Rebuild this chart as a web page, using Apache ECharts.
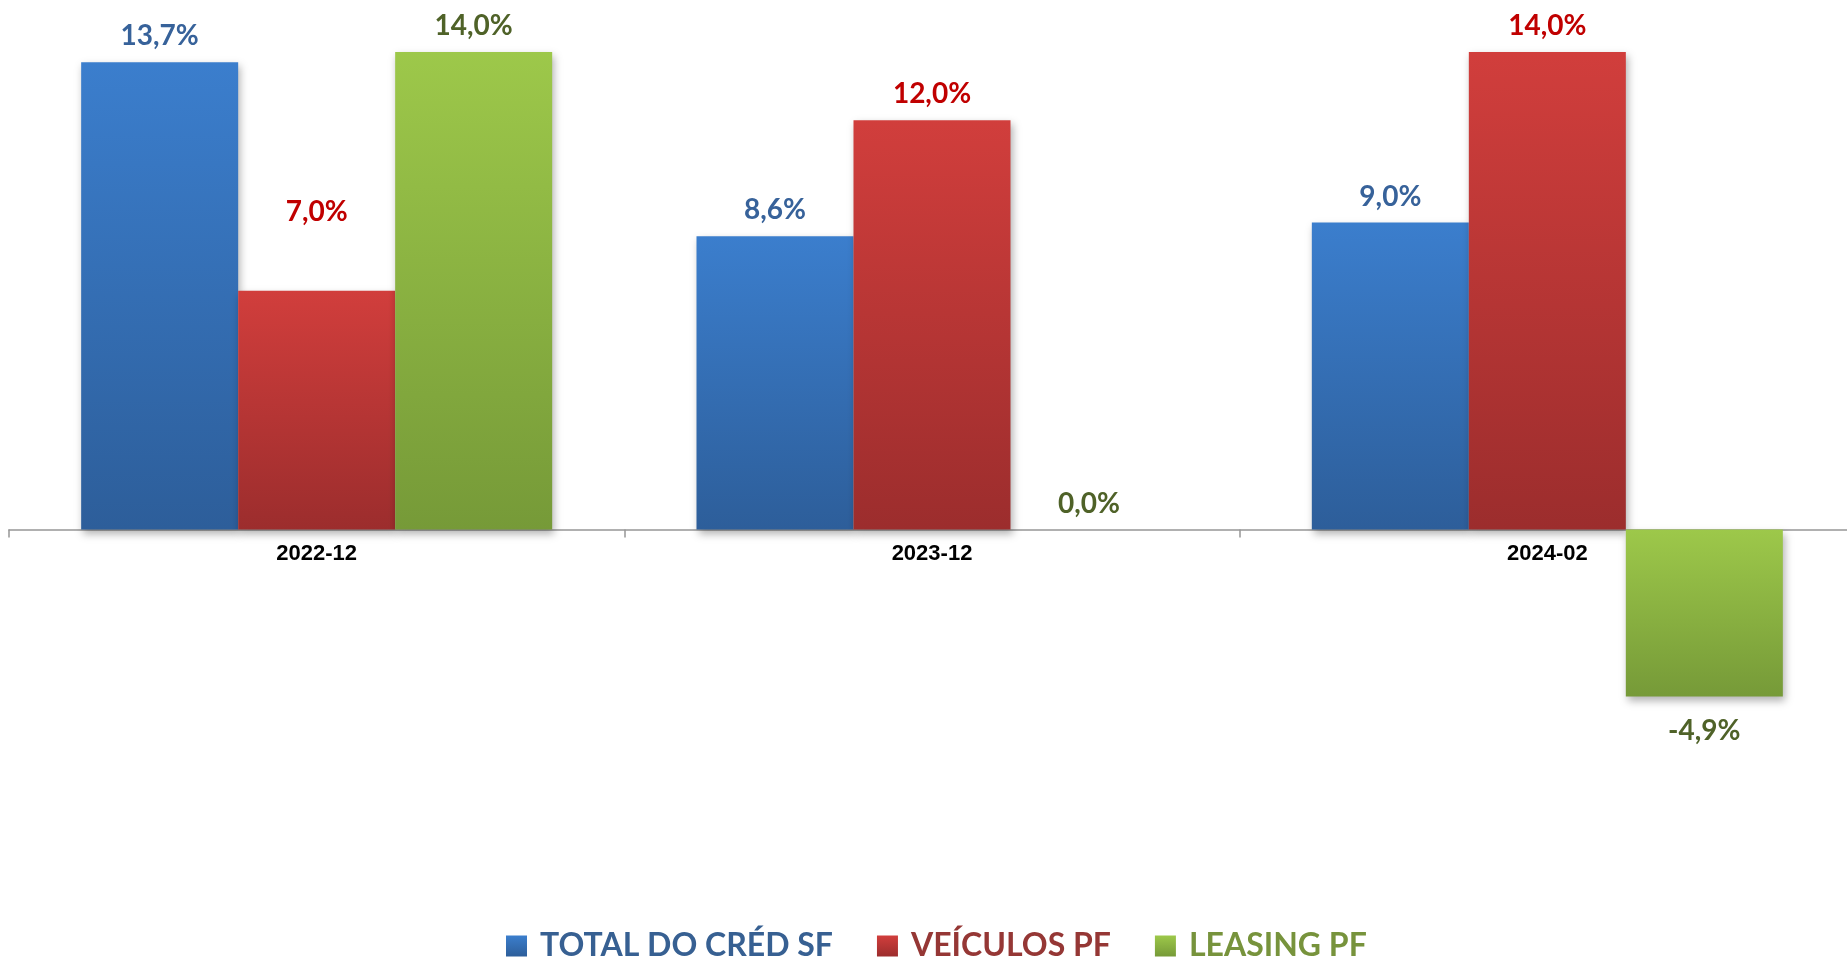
<!DOCTYPE html>
<html>
<head>
<meta charset="utf-8">
<script src="https://cdn.jsdelivr.net/npm/echarts@6/dist/echarts.min.js"></script>
<style>
  html, body { margin: 0; padding: 0; background: #fff; }
  #chart { width: 1847px; height: 959px; }
</style>
</head>
<body>
<div id="chart"></div>
<script>
  var categories = ['2022-12', '2023-12', '2024-02']
  var seriesNames = ['TOTAL DO CRÉD SF', 'VEÍCULOS PF', 'LEASING PF']
  var totalCred = [13.7, 8.6, 9.0]
  var veiculos = [7.0, 12.0, 14.0]
  var leasing = [14.0, 0.0, -4.9]

  var chart = echarts.init(document.getElementById('chart'))

  function grad(top, bottom) {
    return new echarts.graphic.LinearGradient(0, 0, 0, 1, [
      {offset: 0, color: top},
      {offset: 1, color: bottom}
    ])
  }

  var barColors = [
    ['#3b7ecd', '#2d5e9a'],
    ['#d13e3c', '#9c2d2d'],
    ['#9dc84a', '#769a38']
  ]
  var labelColors = ['#37629a', '#c00000', '#4f6228']
  var legendColors = ['#376092', '#953735', '#77933c']
  var values = [totalCred, veiculos, leasing]

  function fmt(p) {
    return p.value.toFixed(1).replace('.', ',') + '%'
  }

  // grid: top 18, height 682, y from -5 to 15 -> zero line at 529.5
  var gridTop = 18
  var gridHeight = 682
  var yMin = -5
  var yMax = 15
  var zeroOffset = gridHeight * yMin / (yMax - yMin)

  var series = []
  for (var i = 0; i < values.length; i++) {
    series.push({
      name: seriesNames[i],
      type: 'bar',
      barWidth: 157,
      barGap: '0%',
      data: values[i].map(function (v, j) {
        if (v < 0) {
          return {value: v, label: {position: 'bottom', distance: 20}}
        }
        // the 7,0% label sits higher in the original
        if (i === 1 && j === 0) {
          return {value: v, label: {offset: [0, -53]}}
        }
        return v
      }),
      itemStyle: {
        color: grad(barColors[i][0], barColors[i][1]),
        shadowBlur: 8,
        shadowOffsetX: 2,
        shadowOffsetY: 4,
        shadowColor: 'rgba(0, 0, 0, 0.3)'
      },
      label: {
        show: true,
        position: 'top',
        distance: 12,
        formatter: fmt,
        color: labelColors[i],
        fontFamily: 'Lato',
        fontWeight: 'bold',
        fontSize: 28
      }
    })
  }

  var option = {
    animation: false,
    backgroundColor: '#fff',
    grid: {
      left: 9,
      width: 1846,
      top: gridTop,
      height: gridHeight,
      outerBoundsMode: 'none'
    },
    legend: {
      left: 501,
      top: 925,
      itemWidth: 21,
      itemHeight: 21,
      itemGap: 44,
      icon: 'rect',
      textStyle: {
        fontFamily: 'Lato',
        fontWeight: 'bold',
        fontSize: 32,
        padding: [0, 0, 0, 8]
      },
      data: seriesNames.map(function (n, k) {
        return {name: n, textStyle: {color: legendColors[k]}}
      })
    },
    xAxis: {
      type: 'category',
      data: categories,
      offset: zeroOffset,
      axisLine: {
        onZero: false,
        lineStyle: {color: '#969696', width: 1.5}
      },
      axisTick: {
        show: true,
        length: 8,
        lineStyle: {color: '#969696', width: 1.5}
      },
      axisLabel: {
        color: '#000',
        fontFamily: 'Liberation Sans',
        fontWeight: 'bold',
        fontSize: 22,
        margin: 13
      }
    },
    yAxis: {
      type: 'value',
      min: yMin,
      max: yMax,
      show: false,
      splitLine: {show: false}
    },
    series: series
  }

  chart.setOption(option)
</script>
</body>
</html>
